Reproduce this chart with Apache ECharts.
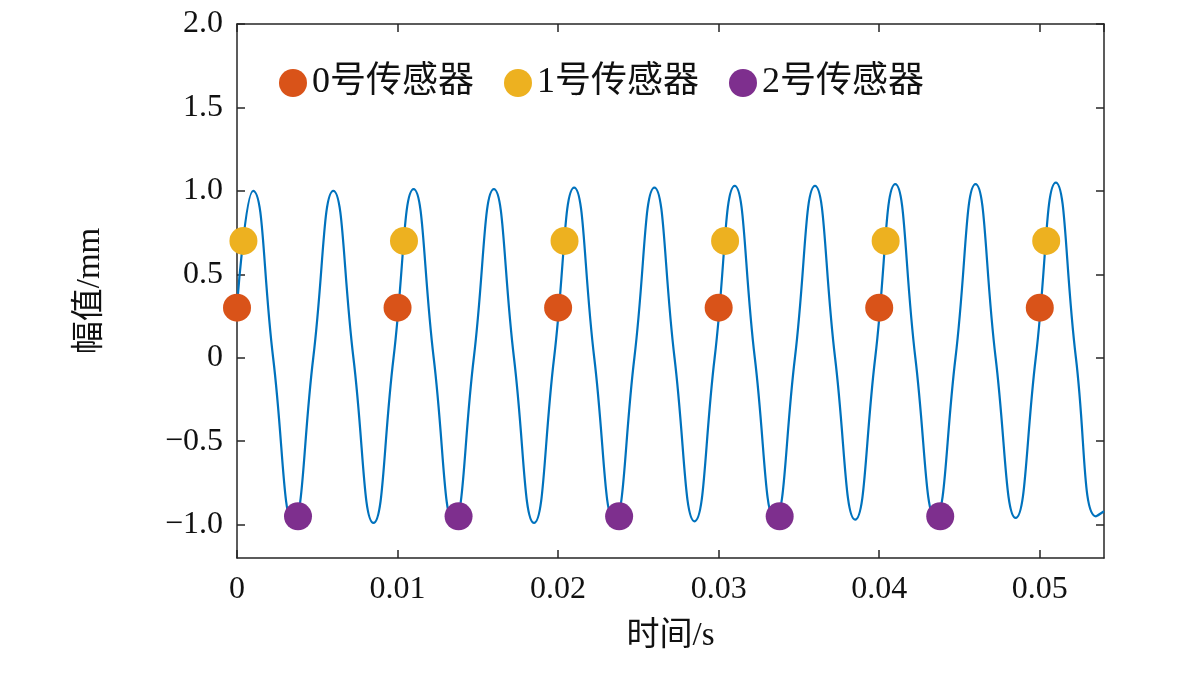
<!DOCTYPE html>
<html><head><meta charset="utf-8">
<script src="https://cdn.jsdelivr.net/npm/echarts@6/dist/echarts.min.js"></script>
<style>html,body{margin:0;background:#fff}#c{width:1181px;height:677px}</style>
</head><body><div id="c"></div>
<script>
// waveform key points (peaks, zero crossings, troughs)
const waveT = [0, .001, .00225, .0035, .00475, .006, .00725, .0085, .00975, .011, .01225, .0135, .01475, .016, .01725, .0185, .01975, .021, .02225, .0235, .02475, .026, .02725, .0285, .02975, .031, .03225, .0335, .03475, .036, .03725, .0385, .03975, .041, .04225, .0435, .04475, .046, .04725, .0485, .04975, .051, .05225, .0535, .054];
const waveV = [0.31, 1.00, 0, -0.99, 0, 1.00, 0, -0.99, 0, 1.01, 0, -0.99, 0, 1.01, 0, -0.99, 0, 1.02, 0, -0.98, 0, 1.02, 0, -0.98, 0, 1.03, 0, -0.97, 0, 1.03, 0, -0.97, 0, 1.04, 0, -0.96, 0, 1.04, 0, -0.96, 0, 1.05, 0, -0.95, -0.92];
const s0T = [0, 0.01, 0.02, 0.03, 0.04, 0.05];
const s0V = [0.3, 0.3, 0.3, 0.3, 0.3, 0.3];
const s1T = [0.0004, 0.0104, 0.0204, 0.0304, 0.0404, 0.0504];
const s1V = [0.7, 0.7, 0.7, 0.7, 0.7, 0.7];
const s2T = [0.0038, 0.0138, 0.0238, 0.0338, 0.0438];
const s2V = [-0.95, -0.95, -0.95, -0.95, -0.95];
const yTicks = [-1, -0.5, 0, 0.5, 1, 1.5, 2];
const names = ['0号传感器', '1号传感器', '2号传感器'];

const font = '"Liberation Serif","Noto Sans CJK SC"';
const zip = (a, b) => a.map((t, i) => [t, b[i]]);
const chart = echarts.init(document.getElementById('c'));
const axLine = {show: true, onZero: false, lineStyle: {color: '#262626', width: 1.5}};
const tick = {show: true, inside: true, length: 8, lineStyle: {color: '#262626', width: 1.5}};
const yTick = Object.assign({customValues: yTicks}, tick);
const dot = (n, d, c) => ({name: n, type: 'scatter', data: d, symbolSize: 28, itemStyle: {color: c, opacity: 1}, z: 5});
chart.setOption({
  animation: false,
  textStyle: {fontFamily: font},
  grid: {left: 237, right: 77, top: 24, bottom: 119},
  legend: {top: 60, left: 274, itemGap: 30, icon: 'circle', itemWidth: 28, itemHeight: 28,
    textStyle: {fontSize: 36, fontFamily: font, color: '#111'}, data: names},
  xAxis: [{type: 'value', min: 0, max: 0.054, interval: 0.01, axisLine: axLine, axisTick: tick, splitLine: {show: false},
    name: '时间/s', nameLocation: 'middle', nameGap: 62, nameTextStyle: {fontSize: 33, color: '#111', fontFamily: font},
    axisLabel: {fontSize: 32, color: '#111', margin: 16, showMaxLabel: false, formatter: v => v === 0 ? '0' : v.toFixed(2)}},
    {type: 'value', position: 'top', min: 0, max: 0.054, interval: 0.01, axisLine: axLine, axisTick: tick, axisLabel: {show: false}, splitLine: {show: false}}],
  yAxis: [{type: 'value', min: -1.2, max: 2, axisLine: axLine, axisTick: yTick, splitLine: {show: false},
    name: '幅值/mm', nameLocation: 'middle', nameGap: 130, nameTextStyle: {fontSize: 33, color: '#111', fontFamily: font},
    axisLabel: {fontSize: 32, color: '#111', margin: 14, customValues: yTicks,
      formatter: v => Math.abs(v) < 1e-9 ? '0' : v.toFixed(1).replace('-', '−')}},
    {type: 'value', position: 'right', min: -1.2, max: 2, axisLine: axLine, axisTick: yTick, axisLabel: {show: false}, splitLine: {show: false}}],
  series: [
    {type: 'line', data: zip(waveT, waveV), smooth: 0.5, showSymbol: false, lineStyle: {color: '#0072BD', width: 2.2}, z: 3},
    dot(names[0], zip(s0T, s0V), '#D95319'),
    dot(names[1], zip(s1T, s1V), '#EDB120'),
    dot(names[2], zip(s2T, s2V), '#7E2F8E')
  ]
});
</script></body></html>
